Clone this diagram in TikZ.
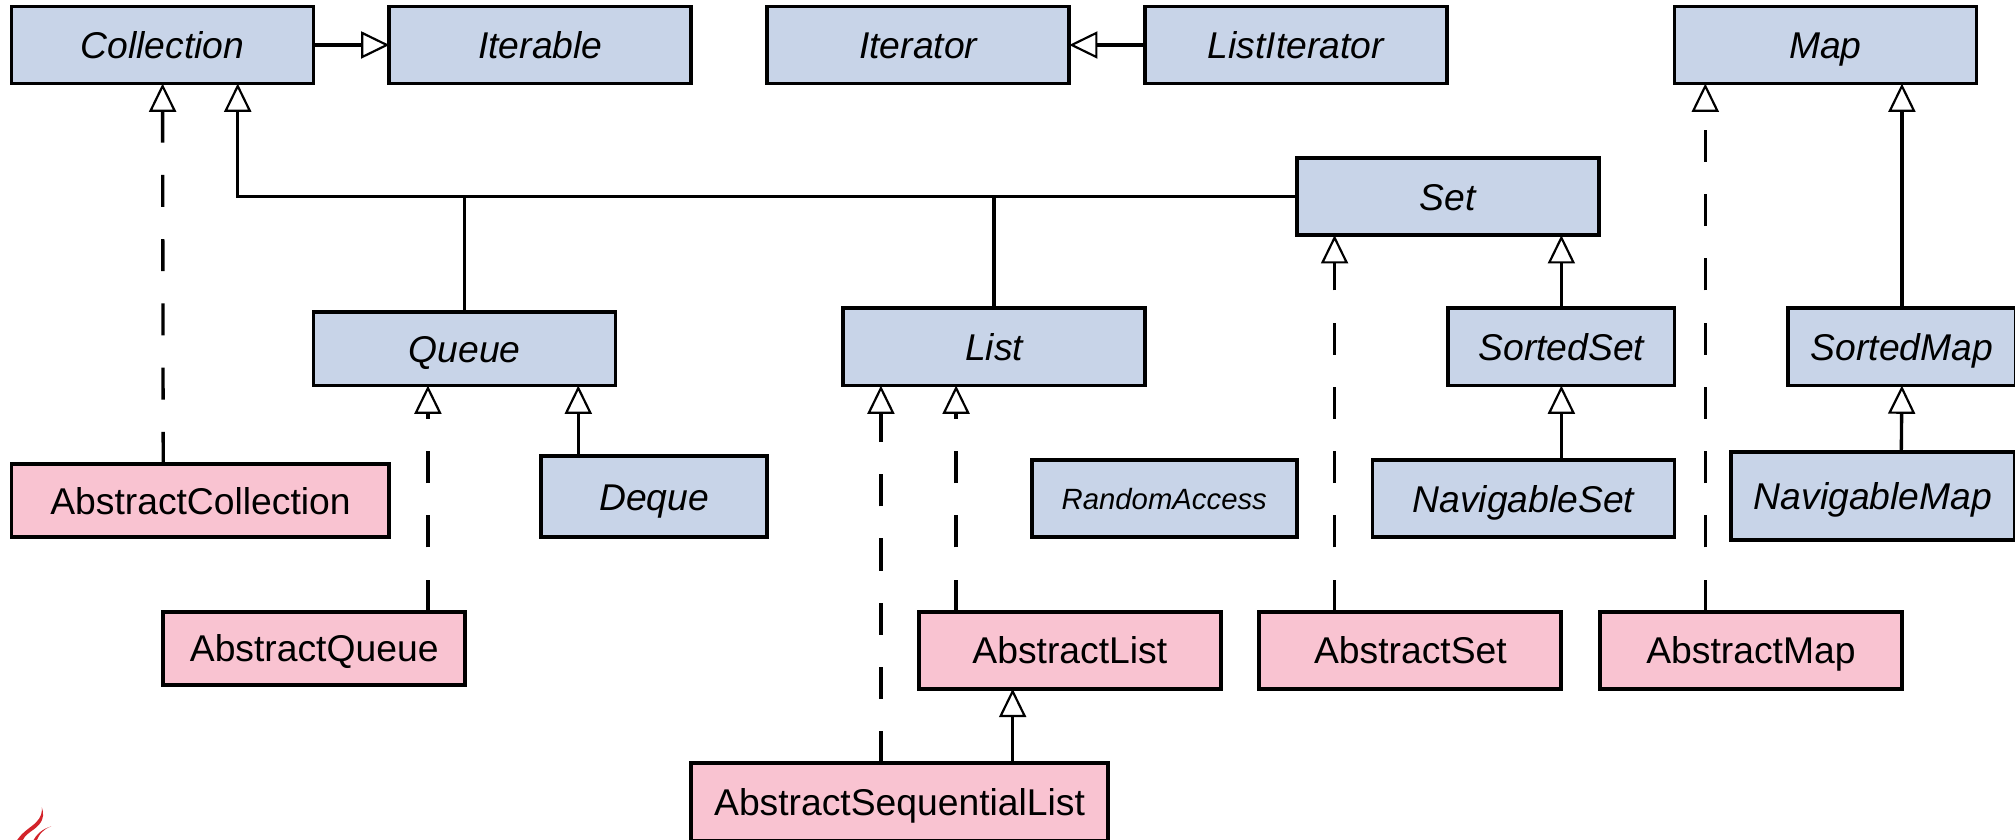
\documentclass[tikz,border=0pt]{standalone}
\usepackage{fontspec}
\setmainfont{Liberation Sans}
\usetikzlibrary{arrows.meta}
\definecolor{ifaceblue}{HTML}{C8D4E8}
\definecolor{classpink}{HTML}{F9C3D1}
\definecolor{flamered}{HTML}{D3232A}
\tikzset{
  box/.style = {draw, line width = 3pt, inner sep = 0, outer sep = 0, minimum width = 235pt, minimum height = 60pt, text height = 24pt, text depth = 3pt, font = \fontsize{29}{34}\selectfont},
  iface/.style = {box, fill = ifaceblue, font = \fontsize{29}{34}\selectfont\itshape},
  class/.style = {box, fill = classpink},
  trunk/.style = {line width = 2.6pt},
  extends/.style = {trunk, -{Triangle[open, length = 22pt, width = 21pt, line width = 1.7pt]}},
  implements/.style = {extends, dash pattern = on 25pt off 25pt}
}

\begin{document}
\begin{tikzpicture}[x = 1pt, y = -1pt]
\useasboundingbox (0, 0) rectangle (1568, 653.6);
\node[iface](collection) at (126.5, 35){Collection};
\node[iface](iterable) at (420.5, 35){Iterable};
\node[iface](iterator) at (714.5, 35){Iterator};
\node[iface](listiterator) at (1008.5, 35){ListIterator};
\node[iface](map) at (1420.5, 35){Map};
\node[iface](set) at (1126.5, 153){Set};
\node[iface, minimum height = 57pt](queue) at (361.5, 271.5){Queue};
\node[iface](list) at (773.5, 270){List};
\node[iface, minimum width = 176pt](sortedset) at (1215, 270){SortedSet};
\node[iface, minimum width = 177pt](sortedmap) at (1480, 270){SortedMap};
\node[iface, minimum width = 176pt, minimum height = 63pt](deque) at (509, 386.5){Deque};
\node[iface, minimum width = 206pt, text height = 20pt, font = \fontsize{22.8}{27}\selectfont\itshape](randomaccess) at (906, 388){RandomAccess};
\node[iface](navigableset) at (1185.5, 388){NavigableSet};
\node[iface, minimum width = 221pt, minimum height = 68pt](navigablemap) at (1457.5, 386){NavigableMap};
\node[class, minimum width = 294pt, minimum height = 57pt](abstractcollection) at (156, 389.5){AbstractCollection};
\node[class, minimum height = 57pt](abstractqueue) at (244.5, 504.5){AbstractQueue};
\node[class](abstractlist) at (832.5, 506){AbstractList};
\node[class](abstractset) at (1097.5, 506){AbstractSet};
\node[class](abstractmap) at (1362.5, 506){AbstractMap};
\node[class, minimum width = 324pt](abstractsequentiallist) at (700, 624){AbstractSequentialList};
\draw[extends] (collection) -- (iterable);
\draw[extends] (listiterator) -- (iterator);
\draw[extends] (set.west) -| ([xshift = 58.5pt]collection.south);
\draw[trunk] (queue.north) -- (queue.north |- set.west);
\draw[trunk] (list.north) -- (list.north |- set.west);
\draw[implements] ([xshift = -29pt]abstractcollection.north) -- (collection.south);
\draw[implements] ([xshift = 88.5pt]abstractqueue.north) -- ([xshift = -28.5pt]queue.south);
\draw[extends] ([xshift = -59pt]deque.north) -- ([xshift = 88.5pt]queue.south);
\draw[implements] ([xshift = -14.5pt]abstractsequentiallist.north) -- ([xshift = -88pt]list.south);
\draw[implements] ([xshift = -88.5pt]abstractlist.north) -- ([xshift = -29.5pt]list.south);
\draw[extends] ([xshift = 88pt]abstractsequentiallist.north) -- ([xshift = -44.5pt]abstractlist.south);
\draw[implements] ([xshift = -59pt]abstractset.north) -- ([xshift = -88pt]set.south);
\draw[extends] (sortedset.north) -- ([xshift = 88.5pt]set.south);
\draw[extends] ([xshift = 29.5pt]navigableset.north) -- (sortedset.south);
\draw[implements] ([xshift = -35.5pt]abstractmap.north) -- ([xshift = -93.5pt]map.south);
\draw[extends] (sortedmap.north) -- ([xshift = 59.5pt]map.south);
\draw[extends] ([xshift = 22pt]navigablemap.north) -- (sortedmap.south);
\fill[flamered] (32.5, 628) .. controls (36, 638) and (30, 643) .. (24, 647) .. controls (20, 650) and (18, 652) .. (17, 656) -- (12, 656) .. controls (16, 648) and (24, 644) .. (28, 640) .. controls (32, 636) and (33, 632) .. (32.5, 628) -- cycle;
\fill[flamered] (40, 643) .. controls (34, 645) and (30, 649) .. (28, 656) -- (25, 656) .. controls (28, 649) and (33, 645) .. (40, 643) -- cycle;
\end{tikzpicture}
\end{document}
